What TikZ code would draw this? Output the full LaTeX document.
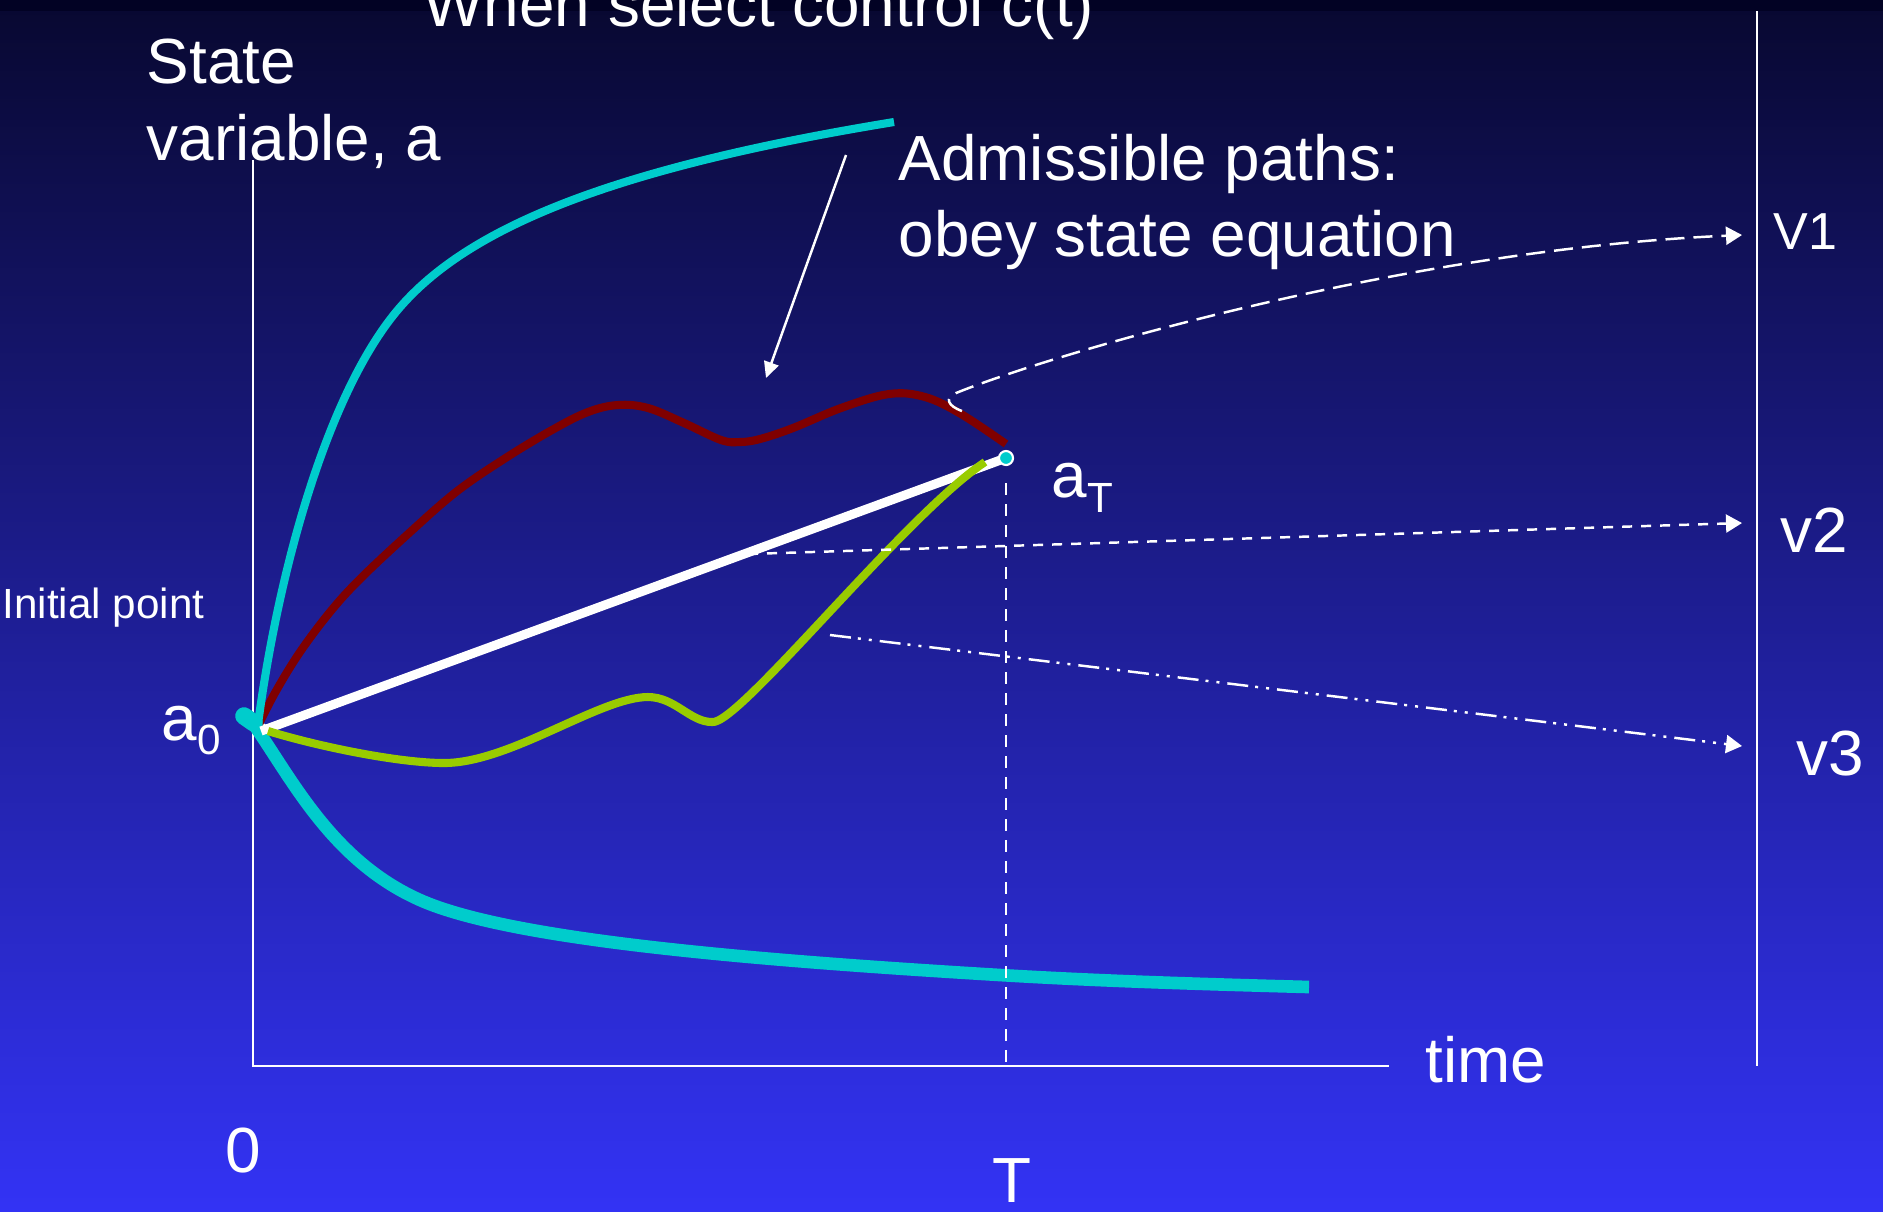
\documentclass[tikz,border=0pt]{standalone}
\usepackage{fontspec}
\setmainfont{Liberation Sans}
\usetikzlibrary{arrows.meta}
\definecolor{cyanp}{RGB}{0,204,204}
\definecolor{redp}{RGB}{128,0,0}
\definecolor{greenp}{RGB}{153,204,0}
\definecolor{bgtop}{RGB}{8,8,48}
\definecolor{bgbot}{RGB}{51,51,245}
\definecolor{bgband}{RGB}{2,2,36}
\begin{document}
\begin{tikzpicture}[x=0.01cm,y=-0.01cm,
  lbl/.style={text=white,inner sep=0pt,anchor=base west,font=\fontsize{18.15}{20}\selectfont},
  axisline/.style={white,line width=0.6pt},
  marker/.style={circle,fill=cyanp,draw=white,line width=0.6pt,minimum size=0.14cm,inner sep=0pt},
  curvepath/.style={line width=2.3pt,line join=round},
  pointer/.style={white,line width=0.7pt,-{Triangle[length=0.16cm,width=0.15cm]}},
  valarrow/.style={white,line width=0.7pt,-{Triangle[length=0.16cm,width=0.18cm]}},
  guide/.style={white,line width=0.55pt,dash pattern=on 0.12cm off 0.09cm}
]
\useasboundingbox (0,0) rectangle (1883,1211);
\clip (0,0) rectangle (1883,1211);
\shade[top color=bgtop,bottom color=bgbot] (0,0) rectangle (1883,1211);
\fill[bgband] (0,0) rectangle (1883,11);

% axes
\coordinate (yTop) at (253,160);
\coordinate (O) at (253,1066);
\coordinate (xEnd) at (1389,1066);
\coordinate (rTop) at (1757,11);
\coordinate (rBot) at (1757,1066);
\draw[axisline] (yTop) -- (O) -- (xEnd);
\draw[axisline] (rTop) -- (rBot);

% key points
\coordinate (A0) at (261,731);
\coordinate (AT) at (1006,458);
\node[marker] (a0pt) at (A0) {};

% paths
\draw[curvepath,redp] plot[smooth,tension=0.6] coordinates {(259,724) (276,691) (300,652) (330,612) (360,579) (408,534) (456,492) (504,459) (552,430) (588,412) (618,405) (648,408) (684,423) (721,440) (740,442) (760,439) (793,428) (841,408) (889,394) (925,397) (961,414) (1006,444)};
\draw[curvepath,cyanp] (258,724) .. controls (280,560) and (330,392) .. (396,312)
  .. controls (462,232) and (600,170) .. (894,122);
\draw[cyanp,line width=5pt,line cap=round] (244,716) -- (254,723);
\draw[cyanp,line width=3.6pt,line join=round] (252,722) .. controls (290,775) and (330,860) .. (420,900)
  .. controls (510,940) and (750,960) .. (1000,975)
  .. controls (1100,981) and (1200,984) .. (1309,987);
\draw[white,line width=2.6pt] (A0) -- (AT);
\draw[curvepath,greenp] (268,731) .. controls (320,747) and (400,763) .. (444,763)
  .. controls (510,763) and (600,697) .. (648,697)
  .. controls (675,697) and (690,722) .. (712,722)
  .. controls (738,726) and (905,515) .. (985,462);
\node[marker] (aTpt) at (AT) {};

% vertical guide at T
\coordinate (Tguide) at (1006,483);
\coordinate (Tbase) at (1006,1066);
\draw[guide] (Tguide) -- (Tbase);

% value arrows
\coordinate (v1s) at (962,411);
\coordinate (v1e) at (1742,235);
\coordinate (v2s) at (748,554);
\coordinate (v2e) at (1742,523);
\coordinate (v3s) at (830,635);
\coordinate (v3e) at (1742,746);
\draw[valarrow,dash pattern=on 0.19cm off 0.09cm] (v1s) .. controls (948,406) and (944,398) .. (956,393) .. controls (1050,355) and (1400,250) .. (v1e);
\draw[valarrow,dash pattern=on 0.1cm off 0.09cm] (v2s) -- (v2e);
\draw[valarrow,dash pattern=on 0.21cm off 0.07cm on 0.03cm off 0.08cm on 0.03cm off 0.08cm] (v3s) -- (v3e);

% pointer from caption
\coordinate (admTail) at (846,155);
\coordinate (admTip) at (766,378);
\draw[pointer] (admTail) -- (admTip);

% labels
\node[lbl] (when) at (423,26) {When select control c(t)};
\node[lbl] (state1) at (146,83) {State};
\node[lbl] (state2) at (146,160) {variable, a};
\node[lbl] (adm1) at (898,180) {Admissible paths:};
\node[lbl] (adm2) at (898,256) {obey state equation};
\node[lbl,font=\fontsize{12}{14}\selectfont] (init) at (2,618) {Initial point};
\node[lbl] (a0lbl) at (161,740) {a\raisebox{-0.14cm}{\fontsize{12}{13}\selectfont 0}};
\node[lbl] (aTlbl) at (1051,497) {a\raisebox{-0.15cm}{\fontsize{12}{13}\selectfont T}};
\node[lbl] (zero) at (225,1172) {0};
\node[lbl,anchor=base] (Tlbl) at (1012,1202) {T};
\node[lbl] (time) at (1425,1082) {time};
\node[lbl,font=\fontsize{14.8}{17}\selectfont] (V1) at (1773,249) {V1};
\node[lbl] (v2) at (1780,552) {v2};
\node[lbl] (v3) at (1796,775) {v3};
\end{tikzpicture}
\end{document}
